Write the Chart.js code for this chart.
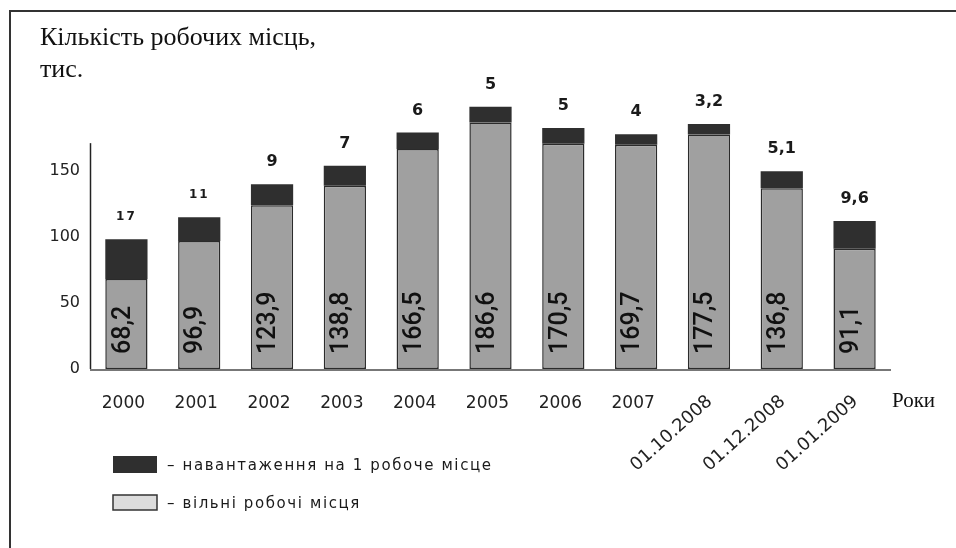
<!DOCTYPE html>
<html lang="uk">
<head>
<meta charset="utf-8">
<title>Кількість робочих місць</title>
<script src="https://cdn.jsdelivr.net/npm/chart.js@4.4.1/dist/chart.umd.min.js"></script>
<style>
  html, body { margin: 0; padding: 0; background: #fff; }
  #chart { display: block; }
</style>
</head>
<body>
<canvas id="chart" width="956" height="548"></canvas>
<script>
// ─── Data ───
const periods      = ['2000', '2001', '2002', '2003', '2004', '2005', '2006', '2007', '01.10.2008', '01.12.2008', '01.01.2009'];
const vacancies    = [68.2, 96.9, 123.9, 138.8, 166.5, 186.6, 170.5, 169.7, 177.5, 136.8, 91.1];
const loadPerPlace = [17, 11, 9, 7, 6, 5, 5, 4, 3.2, 5.1, 9.6];
// height of the dark cap as it is drawn in the picture (it is not to scale with the label)
const loadBand     = [30, 18, 16, 15, 12.5, 12, 12, 8, 8, 13, 21];
const yTicks       = [0, 50, 100, 150];
const yAxisTop     = 171;   // the drawn y axis line stops here

const fmt = v => String(v).replace('.', ',');

const DARK  = '#2f2f2f';
const GREY  = '#a0a0a0';
const LIGHT = '#dcdcdc';

// ─── Decorations, labels and legend ───
const decor = {
  id: 'decor',
  afterDraw(chart) {
    const { ctx, chartArea: area, scales: { y } } = chart;
    const y0 = y.getPixelForValue(0);
    const metaV = chart.getDatasetMeta(0);
    const metaL = chart.getDatasetMeta(1);
    ctx.save();

    // frame
    ctx.strokeStyle = '#333';
    ctx.lineWidth = 2;
    ctx.strokeRect(10, 11, 980, 600);

    // title
    ctx.fillStyle = '#111';
    ctx.font = '26px "Liberation Serif"';
    ctx.textAlign = 'left';
    ctx.textBaseline = 'alphabetic';
    ctx.fillText('Кількість робочих місць,', 40, 45);
    ctx.fillText('тис.', 40, 77);

    // y axis line
    ctx.strokeStyle = '#222';
    ctx.lineWidth = 1.5;
    ctx.beginPath();
    ctx.moveTo(area.left + 0.5, y0);
    ctx.lineTo(area.left + 0.5, y.getPixelForValue(yAxisTop));
    ctx.stroke();

    // base line
    ctx.strokeStyle = '#777';
    ctx.lineWidth = 2;
    ctx.beginPath();
    ctx.moveTo(area.left, y0 + 1);
    ctx.lineTo(area.right, y0 + 1);
    ctx.stroke();

    periods.forEach((p, i) => {
      const bar = metaV.data[i];
      const top = metaL.data[i].y;

      // value inside the grey bar, rotated
      ctx.save();
      ctx.translate(bar.x - 3, y0 - 15);
      ctx.rotate(-Math.PI / 2);
      ctx.textAlign = 'left';
      ctx.textBaseline = 'middle';
      ctx.font = '500 25px Roboto';
      ctx.fillStyle = '#111';
      ctx.fillText(fmt(vacancies[i]), 0, 0);
      ctx.restore();

      // load per place above the bar
      ctx.fillStyle = '#1a1a1a';
      ctx.textAlign = 'center';
      ctx.textBaseline = 'middle';
      if (i < 2) {
        ctx.font = 'bold 12px "DejaVu Sans"';
        ctx.letterSpacing = '2px';
      } else {
        ctx.font = 'bold 16px "DejaVu Sans"';
        ctx.letterSpacing = '0px';
      }
      ctx.fillText(fmt(loadPerPlace[i]), bar.x, top - 22);
      ctx.letterSpacing = '0px';

      // category label
      ctx.fillStyle = '#222';
      if (p.includes('.')) {
        ctx.save();
        ctx.translate(bar.x + 1, 399);
        ctx.rotate(-42 * Math.PI / 180);
        ctx.textAlign = 'right';
        ctx.textBaseline = 'middle';
        ctx.font = '18px "DejaVu Sans"';
        ctx.fillText(p, 0, 0);
        ctx.restore();
      } else {
        ctx.textAlign = 'center';
        ctx.textBaseline = 'middle';
        ctx.font = '17px "DejaVu Sans"';
        ctx.fillText(p, bar.x - 3, 404);
      }
    });

    // axis name
    ctx.fillStyle = '#111';
    ctx.font = '21px "Liberation Serif"';
    ctx.textAlign = 'left';
    ctx.textBaseline = 'alphabetic';
    ctx.fillText('Роки', 892, 407);

    // legend
    ctx.fillStyle = DARK;
    ctx.fillRect(113, 456, 44, 17);
    ctx.fillStyle = LIGHT;
    ctx.fillRect(113, 495, 44, 15);
    ctx.strokeStyle = '#333';
    ctx.lineWidth = 1.5;
    ctx.strokeRect(113, 495, 44, 15);

    ctx.fillStyle = '#1a1a1a';
    ctx.font = '15px "DejaVu Sans"';
    ctx.letterSpacing = '1.6px';
    ctx.textBaseline = 'middle';
    ctx.fillText('– навантаження на 1 робоче місце', 167, 466);
    ctx.fillText('– вільні робочі місця', 167, 504);
    ctx.letterSpacing = '0px';

    ctx.restore();
  }
};

Chart.defaults.font.family = '"DejaVu Sans"';
Chart.defaults.color = '#222';

new Chart(document.getElementById('chart'), {
  type: 'bar',
  data: {
    labels: periods,
    datasets: [
      {
        label: 'вільні робочі місця',
        data: vacancies,
        backgroundColor: GREY,
        borderColor: '#2b2b2b',
        borderWidth: 1.5,
        borderSkipped: false
      },
      {
        label: 'навантаження на 1 робоче місце',
        data: loadBand,
        backgroundColor: DARK,
        borderWidth: 0
      }
    ]
  },
  options: {
    responsive: false,
    animation: false,
    layout: { padding: { top: 89, right: 65, bottom: 179, left: 0 } },
    datasets: { bar: { categoryPercentage: 1, barPercentage: 0.58 } },
    scales: {
      x: { display: false, stacked: true },
      y: {
        stacked: true,
        min: 0,
        max: 212,
        grid: { display: false, drawTicks: false },
        border: { display: false },
        afterBuildTicks: s => { s.ticks = yTicks.map(v => ({ value: v })); },
        afterFit: s => { s.width = 90; },
        ticks: { padding: 10, font: { size: 16 }, color: '#222' }
      }
    },
    plugins: { legend: { display: false }, tooltip: { enabled: false } }
  },
  plugins: [decor]
});
</script>
</body>
</html>
